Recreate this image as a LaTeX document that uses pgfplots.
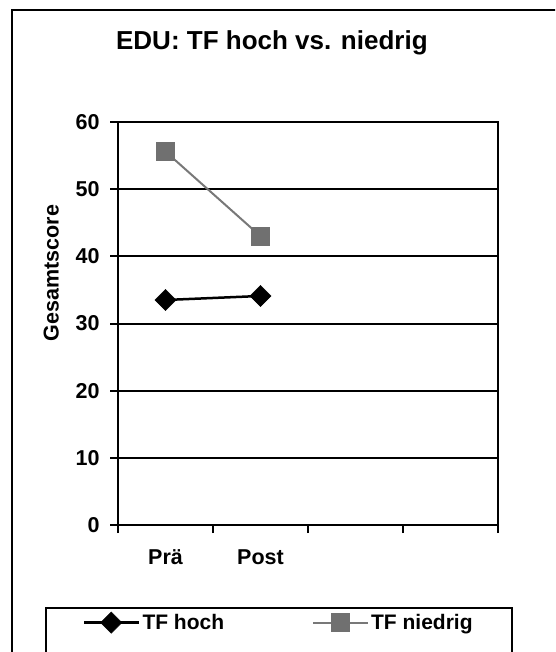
\documentclass[border=0pt]{standalone}
\usepackage{pgfplots}
\pgfplotsset{compat=1.18}
\usepackage{fontspec}
\setmainfont{Liberation Sans}
\definecolor{ngray}{RGB}{112,112,112}
\definecolor{lgray}{RGB}{120,120,120}
\begin{document}
\bfseries
\begin{tikzpicture}
\path[use as bounding box] (0pt,0pt) rectangle (555pt,-652pt);
\clip (0pt,0pt) rectangle (555pt,-652pt);
\draw[line width=2pt] (12pt,-10pt) rectangle (600pt,-700pt);
\begin{axis}[
  at={(118pt,-525pt)}, anchor=south west,
  scale only axis, width=380pt, height=403pt,
  xmin=0, xmax=4, ymin=0, ymax=60,
  xtick={0,1,2,3,4}, xticklabels={},
  extra x ticks={0.5,1.5}, extra x tick labels={Prä,Post},
  extra x tick style={major tick length=0pt, grid=none},
  xtick pos=bottom, ytick pos=left,
  ytick={0,10,...,60}, ymajorgrids,
  grid style={black, line width=2pt},
  tick align=outside, major tick length=8pt,
  tick style={black, line width=2pt},
  axis line style={line width=2.5pt},
  /pgf/number format/assume math mode=true,
  ticklabel style={font=\fontsize{21.5}{26}\selectfont\bfseries},
  xticklabel style={yshift=-21pt},
  yticklabel style={xshift=-7pt},
  title={EDU: TF hoch vs. niedrig},
  title style={at={(axis description cs:0.405,1.166)}, anchor=base, font=\fontsize{26}{32}\selectfont\bfseries},
  ylabel={Gesamtscore},
  ylabel style={at={(axis description cs:-0.176,0.625)}, anchor=center, font=\fontsize{21.5}{26}\selectfont\bfseries},
  legend columns=2,
  legend style={at={(axis description cs:-0.1921,-0.2035)}, anchor=north west, draw=black, line width=2pt,
    inner xsep=37pt, inner ysep=4pt, font=\fontsize{21}{25}\selectfont\bfseries,
    /tikz/every even column/.append style={column sep=86pt}},
  legend image code/.code={\draw[mark repeat=2,mark phase=2] plot coordinates {(0pt,0pt) (27pt,0pt) (55pt,0pt)};},
  clip=false,
]
\addplot[black, line width=2.5pt, mark=square*, mark size=7.5pt, mark options={rotate=45, fill=black, line width=0.5pt}]
  coordinates {(0.5,33.5) (1.5,34.1)};
\addlegendentry{TF hoch}
\addplot[lgray, line width=2pt, mark=square*, mark size=9pt, mark options={fill=ngray, draw=ngray, line width=0.5pt}]
  coordinates {(0.5,55.6) (1.5,43.0)};
\addlegendentry{TF niedrig}
\addlegendimage{empty legend}
\addlegendentry{\rule{0pt}{18pt}}
\addlegendimage{empty legend}
\addlegendentry{}
\end{axis}
\end{tikzpicture}
\end{document}
